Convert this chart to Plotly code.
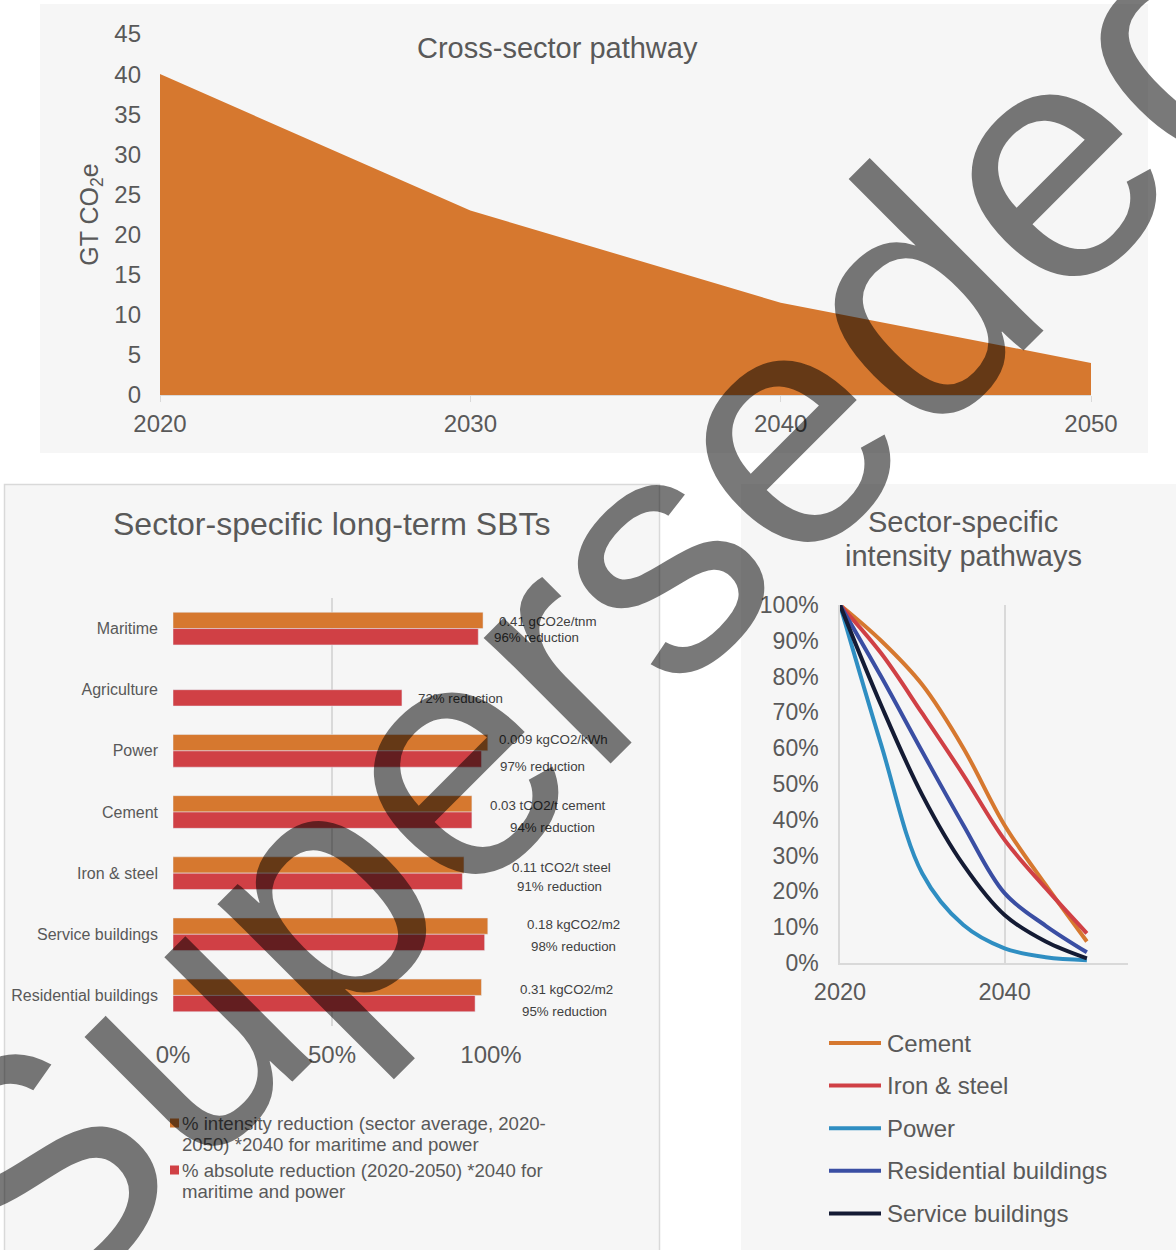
import plotly.graph_objects as go

W, H = 1176, 1250
FONT = "Liberation Sans, Arial, sans-serif"
TXT = "#595959"
GRID = "#d9d9d9"
PANEL = "#f6f6f6"
ORANGE = "#d6782f"
RED = "#d04045"

# --- Cross-sector pathway (GT CO2e) ---
pathway_years = [2020, 2030, 2040, 2050]
pathway_emissions = [40, 23, 11.5, 4]
gt_ticks = [0, 5, 10, 15, 20, 25, 30, 35, 40, 45]

# --- Sector-specific long-term SBTs ---
sectors = ["Maritime", "Agriculture", "Power", "Cement", "Iron & steel",
           "Service buildings", "Residential buildings"]
intensity_reduction = [0.975, None, 0.99, 0.94, 0.915, 0.99, 0.97]
absolute_reduction = [0.96, 0.72, 0.97, 0.94, 0.91, 0.98, 0.95]
intensity_targets = ["0.41 gCO2e/tnm", None, "0.009 kgCO2/kWh", "0.03 tCO2/t cement",
                     "0.11 tCO2/t steel", "0.18 kgCO2/m2", "0.31 kgCO2/m2"]
share_ticks = [0, 0.5, 1]
bar_series = [
    ["% intensity reduction (sector average, 2020-", "2050) *2040 for maritime and power"],
    ["% absolute reduction (2020-2050) *2040 for", "maritime and power"],
]

# --- Sector-specific intensity pathways (share of 2020 intensity) ---
path_years = [2020, 2025, 2030, 2035, 2040, 2045, 2050]
path_names = ["Cement", "Iron & steel", "Power", "Residential buildings", "Service buildings"]
cement = [1.0, 0.90, 0.777, 0.60, 0.385, 0.218, 0.06]
iron_steel = [1.0, 0.865, 0.697, 0.525, 0.344, 0.209, 0.083]
power = [1.0, 0.61, 0.25, 0.106, 0.041, 0.016, 0.008]
residential = [1.0, 0.80, 0.59, 0.385, 0.195, 0.104, 0.03]
service = [1.0, 0.72, 0.469, 0.274, 0.134, 0.06, 0.013]
path_values = [cement, iron_steel, power, residential, service]
path_colors = [ORANGE, RED, "#2f8ec2", "#3a4ea3", "#141b34"]
pct_ticks = [i / 10 for i in range(11)]


def fx(px):
    return px / W


def fy(py):
    return 1 - py / H


fig = go.Figure()

# area: cross-sector pathway
fig.add_trace(go.Scatter(
    x=pathway_years, y=pathway_emissions, fill="tozeroy", mode="none",
    fillcolor=ORANGE, xaxis="x", yaxis="y", showlegend=False, hoverinfo="x+y"))

# grouped horizontal bars
fig.add_trace(go.Bar(
    y=sectors, x=intensity_reduction, orientation="h", marker_color=ORANGE,
    xaxis="x2", yaxis="y2", showlegend=False))
fig.add_trace(go.Bar(
    y=sectors, x=absolute_reduction, orientation="h", marker_color=RED,
    xaxis="x2", yaxis="y2", showlegend=False))

# smoothed intensity pathways
for name, vals, col in zip(path_names, path_values, path_colors):
    fig.add_trace(go.Scatter(
        x=path_years, y=vals, mode="lines", name=name,
        line=dict(color=col, width=4, shape="spline", smoothing=1),
        xaxis="x3", yaxis="y3", showlegend=False))

tick_font = dict(family=FONT, size=24, color=TXT)

fig.update_layout(
    width=W, height=H,
    margin=dict(l=0, r=0, t=0, b=0, pad=0, autoexpand=False),
    paper_bgcolor="white", plot_bgcolor="rgba(0,0,0,0)",
    font=dict(family=FONT, color=TXT),
    showlegend=False,
    barmode="group", bargap=0.466, bargroupgap=0,
    xaxis=dict(domain=[fx(160), fx(1091)], range=[2020, 2050], tickvals=pathway_years,
               showgrid=False, zeroline=False, showline=True, linecolor=GRID, linewidth=1,
               ticks="outside", ticklen=6, tickcolor=GRID, tickfont=tick_font,
               ticklabelstandoff=1, anchor="y", automargin=False),
    yaxis=dict(domain=[fy(395), fy(34)], range=[0, 45], tickvals=gt_ticks,
               showgrid=False, zeroline=False, showline=False, ticks="",
               tickfont=tick_font, ticklabelstandoff=18, anchor="x", automargin=False,
               title=dict(text="GT CO<sub>2</sub>e", font=dict(family=FONT, size=25, color=TXT),
                          standoff=8)),
    xaxis2=dict(domain=[fx(173), fx(491)], range=[0, 1], tickvals=share_ticks,
                tickformat=".0%", showgrid=True, gridcolor=GRID, gridwidth=1.5,
                zeroline=False, showline=False, ticks="", tickfont=tick_font,
                ticklabelstandoff=12, anchor="y2", automargin=False),
    yaxis2=dict(domain=[fy(1026), fy(598)], type="category", range=[6.5, -0.5],
                showgrid=False, zeroline=False, showline=False, ticks="",
                tickfont=dict(family=FONT, size=16, color=TXT), ticklabelstandoff=14,
                anchor="x2", automargin=False),
    xaxis3=dict(domain=[fx(840), fx(1128)], range=[2020, 2055], tickvals=[2020, 2040],
                showgrid=True, gridcolor=GRID, gridwidth=1.5, zeroline=False,
                showline=True, linecolor=GRID, linewidth=1.5, ticks="",
                tickfont=dict(family=FONT, size=23.5, color=TXT), ticklabelstandoff=7,
                anchor="y3", automargin=False),
    yaxis3=dict(domain=[fy(963), fy(605)], range=[0, 1], tickvals=pct_ticks,
                tickformat=".0%", showgrid=False, zeroline=False, showline=True,
                linecolor=GRID, linewidth=1.5, ticks="",
                tickfont=dict(family=FONT, size=23, color=TXT), ticklabelstandoff=15,
                anchor="x3", automargin=False),
)

# chart panels
shapes = [
    dict(type="rect", xref="paper", yref="paper", x0=fx(40), x1=fx(1148), y0=fy(453), y1=fy(4),
         fillcolor=PANEL, line=dict(width=0), layer="below"),
    dict(type="rect", xref="paper", yref="paper", x0=fx(4.5), x1=fx(659.5), y0=fy(1252), y1=fy(484.5),
         fillcolor=PANEL, line=dict(color=GRID, width=1.5), layer="below"),
    dict(type="rect", xref="paper", yref="paper", x0=fx(741), x1=fx(1176), y0=fy(1250), y1=fy(484),
         fillcolor=PANEL, line=dict(width=0), layer="below"),
]

annotations = []


def text(x, y, s, size, color=TXT, xanchor="center", yanchor="middle"):
    annotations.append(dict(x=fx(x), y=fy(y), xref="paper", yref="paper", text=s,
                            showarrow=False, xanchor=xanchor, yanchor=yanchor,
                            font=dict(family=FONT, size=size, color=color)))


# titles
text(557, 48, "Cross-sector pathway", 29)
text(331, 524, "Sector-specific long-term SBTs", 32)
text(963, 522, "Sector-specific", 29)
text(963, 556, "intensity pathways", 29)

# bar value labels, placed beside each bar end
LBL = "#404040"
orange_offsets = [(16, 7), None, (11, 11), (18, 6), (48, 6), (39, 10), (39, 6)]
red_offsets = [(16, -9), (16, -9), (19, -16), (38, -16), (55, -13), (46, -12), (47, -16)]
for i, sector in enumerate(sectors):
    if intensity_reduction[i] is not None:
        dx, dy = orange_offsets[i]
        annotations.append(dict(x=intensity_reduction[i], y=sector, xref="x2", yref="y2",
                                text=intensity_targets[i], showarrow=False,
                                xanchor="left", yanchor="middle", xshift=dx - 2, yshift=dy,
                                font=dict(family=FONT, size=13.3, color=LBL)))
    dx, dy = red_offsets[i]
    annotations.append(dict(x=absolute_reduction[i], y=sector, xref="x2", yref="y2",
                            text=f"{round(absolute_reduction[i] * 100)}% reduction",
                            showarrow=False, xanchor="left", yanchor="middle",
                            xshift=dx - 2, yshift=dy,
                            font=dict(family=FONT, size=13.3, color=LBL)))

# bar legend
for (lines, col, y0) in zip(bar_series, [ORANGE, RED], [1123, 1170]):
    shapes.append(dict(type="rect", xref="paper", yref="paper", x0=fx(170), x1=fx(179),
                       y0=fy(y0 + 4.5), y1=fy(y0 - 4.5), fillcolor=col, line=dict(width=0)))
    for k, ln in enumerate(lines):
        text(180, y0 + k * 21, ln, 18.6, xanchor="left")

# line legend
for k, (name, col) in enumerate(zip(path_names, path_colors)):
    yy = 1043 + k * 42.6
    shapes.append(dict(type="line", xref="paper", yref="paper", x0=fx(829), x1=fx(881),
                       y0=fy(yy), y1=fy(yy), line=dict(color=col, width=4)))
    text(885, yy, name, 24, xanchor="left")

# diagonal stamp across the whole page
annotations.append(dict(x=fx(598), y=fy(612), xref="paper", yref="paper", text="Superseded",
                        showarrow=False, textangle=-45, xanchor="center", yanchor="middle",
                        opacity=0.52, font=dict(family=FONT, size=338, color="black")))

fig.update_layout(shapes=shapes, annotations=annotations)
fig.write_html("out.html")
